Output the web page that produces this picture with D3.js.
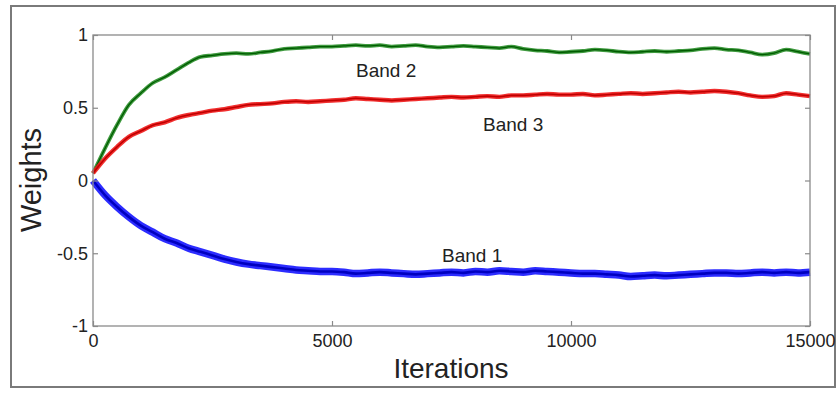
<!DOCTYPE html>
<html>
<head>
<meta charset="utf-8">
<script src="https://cdn.jsdelivr.net/npm/d3@7/dist/d3.min.js"></script>
<style>
  html, body { margin: 0; padding: 0; background: #fff; }
  svg { display: block; }
  text { font-family: Arial, "Liberation Sans", sans-serif; fill: #222; }
</style>
</head>
<body>
<svg id="chart" width="840" height="394"></svg>
<script>
// ---- data ----
const iterations = d3.range(0, 15001, 250);
const band2 = [0.05,0.22,0.38,0.52,0.60,0.67,0.71,0.76,0.81,0.85,0.86,0.87,0.875,0.87,0.88,0.89,0.905,0.91,0.915,0.92,0.92,0.925,0.93,0.925,0.93,0.92,0.925,0.93,0.92,0.915,0.92,0.925,0.92,0.915,0.91,0.92,0.905,0.895,0.89,0.88,0.885,0.89,0.90,0.895,0.885,0.88,0.885,0.89,0.885,0.89,0.895,0.905,0.91,0.90,0.895,0.88,0.865,0.875,0.90,0.885,0.87];
const band3 = [0.05,0.15,0.23,0.30,0.34,0.38,0.40,0.43,0.45,0.465,0.48,0.49,0.505,0.52,0.525,0.53,0.54,0.545,0.54,0.545,0.55,0.555,0.565,0.56,0.555,0.55,0.555,0.56,0.565,0.57,0.575,0.57,0.575,0.58,0.575,0.585,0.585,0.59,0.595,0.59,0.59,0.595,0.585,0.59,0.595,0.60,0.595,0.60,0.605,0.61,0.605,0.61,0.615,0.61,0.60,0.585,0.575,0.58,0.60,0.59,0.58];
const band1 = [0.0,-0.10,-0.18,-0.25,-0.31,-0.355,-0.40,-0.43,-0.465,-0.49,-0.515,-0.54,-0.56,-0.575,-0.585,-0.595,-0.605,-0.615,-0.62,-0.625,-0.625,-0.63,-0.64,-0.635,-0.63,-0.635,-0.64,-0.645,-0.64,-0.635,-0.63,-0.635,-0.625,-0.63,-0.62,-0.625,-0.63,-0.62,-0.625,-0.63,-0.635,-0.64,-0.64,-0.645,-0.65,-0.66,-0.655,-0.65,-0.655,-0.65,-0.645,-0.64,-0.635,-0.635,-0.64,-0.635,-0.63,-0.635,-0.63,-0.635,-0.63];
const xTicks = [0, 5000, 10000, 15000];
const yTicks = [-1, -0.5, 0, 0.5, 1];
const seriesNames = ["Band 1", "Band 2", "Band 3"];

// ---- layout ----
const svg = d3.select("#chart");
const L = 93, R = 810, T = 35, B = 326;
const x = d3.scaleLinear().domain([0, 15000]).range([L, R]);
const y = d3.scaleLinear().domain([-1, 1]).range([B, T]);

// outer frame
svg.append("rect").attr("x", 11).attr("y", 6).attr("width", 824).attr("height", 381)
  .attr("fill", "none").attr("stroke", "#7a7a7a").attr("stroke-width", 2);

// series
const line = d3.line().curve(d3.curveMonotoneX).x((d, i) => x(iterations[i])).y(d => y(d));
const series = [
  { name: seriesNames[0], vals: band1, outer: "#1515ff", core: "#0000c0", w: 7.5 },
  { name: seriesNames[1], vals: band2, outer: "#2a8f2a", core: "#005c00", w: 3.8 },
  { name: seriesNames[2], vals: band3, outer: "#f01818", core: "#c00000", w: 4.4 }
];
series.forEach(s => {
  svg.append("path").datum(s.vals).attr("d", line).attr("fill", "none")
    .attr("stroke", s.outer).attr("stroke-width", s.w).attr("stroke-linejoin", "round").attr("opacity", 0.9);
  svg.append("path").datum(s.vals).attr("d", line).attr("fill", "none")
    .attr("stroke", s.core).attr("stroke-width", s.w * 0.35).attr("stroke-linejoin", "round");
});

// axes box
svg.append("rect").attr("x", L).attr("y", T).attr("width", R - L).attr("height", B - T)
  .attr("fill", "none").attr("stroke", "#8a8a8a").attr("stroke-width", 1.3);

const hyphenFmt = d => String(d).replace("\u2212", "-");
function styleAxis(g, labels) {
  g.select(".domain").remove();
  g.selectAll(".tick line").attr("stroke", "#8a8a8a").attr("stroke-width", 1.2);
  if (!labels) g.selectAll(".tick text").remove();
  else g.selectAll(".tick text").style("font-size", "18px").attr("fill", "#222")
        .style("font-family", "Arial, 'Liberation Sans', sans-serif");
}
svg.append("g").attr("transform", `translate(${L},0)`)
  .call(d3.axisLeft(y).tickValues(yTicks).tickSize(-5).tickPadding(5).tickFormat(hyphenFmt))
  .call(g => styleAxis(g, true));
svg.append("g").attr("transform", `translate(${R},0)`)
  .call(d3.axisRight(y).tickValues(yTicks).tickSize(-5))
  .call(g => styleAxis(g, false));
svg.append("g").attr("transform", `translate(0,${B})`)
  .call(d3.axisBottom(x).tickValues(xTicks).tickSize(-5).tickPadding(8).tickFormat(hyphenFmt))
  .call(g => styleAxis(g, true));
svg.append("g").attr("transform", `translate(0,${T})`)
  .call(d3.axisTop(x).tickValues(xTicks).tickSize(-5))
  .call(g => styleAxis(g, false));

// axis titles
svg.append("text").attr("x", 451).attr("y", 378).attr("text-anchor", "middle")
  .style("font-size", "28px").text("Iterations");
svg.append("text").attr("transform", "translate(41,180) rotate(-90)").attr("text-anchor", "middle")
  .style("font-size", "29px").text("Weights");

// series labels
svg.append("text").attr("x", 356).attr("y", 77).style("font-size", "19px").text(seriesNames[1]);
svg.append("text").attr("x", 483).attr("y", 131).style("font-size", "19px").text(seriesNames[2]);
svg.append("text").attr("x", 442).attr("y", 262).style("font-size", "19px").text(seriesNames[0]);
</script>
</body>
</html>
